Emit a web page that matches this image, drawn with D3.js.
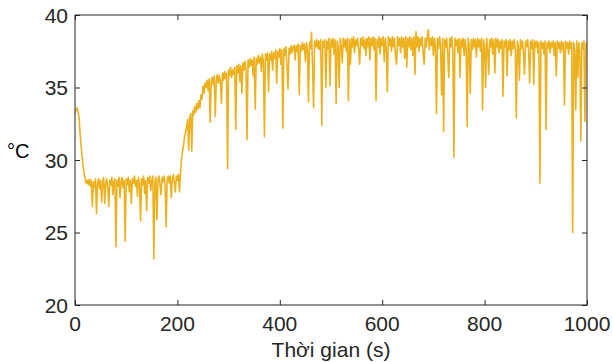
<!DOCTYPE html>
<html><head><meta charset="utf-8">
<script src="https://cdn.jsdelivr.net/npm/d3@7"></script>
<style>body{margin:0;background:#fff}svg{display:block}text{font-family:"Liberation Sans",Arial,Helvetica,sans-serif;fill:#262626}</style>
</head><body>
<script>
// Sampling: one reading every 2 s from 0 to 1000 s
const tStart = 0, tStep = 2;
const temperature = [
33.2,33.5,33.6,33.3,32.9,31.8,31.0,30.2,29.5,29.0,
28.7,28.4,28.6,28.3,28.7,28.2,28.6,26.8,28.5,28.1,
28.7,26.3,28.4,28.7,28.0,28.6,27.1,28.5,28.8,27.0,
28.4,28.7,28.1,26.8,28.6,28.3,28.8,27.6,28.5,28.7,
24.0,28.6,28.2,28.8,27.4,28.5,28.8,28.1,28.6,24.4,
28.7,28.3,28.8,27.8,28.6,27.0,28.7,28.4,28.9,28.2,
28.6,27.5,28.8,28.4,25.8,28.7,28.3,28.9,27.7,28.6,
26.5,28.8,28.4,28.9,27.9,28.6,28.9,23.2,28.5,28.8,
25.9,28.6,28.9,28.3,27.6,28.8,28.5,28.9,28.2,25.4,
28.7,28.9,28.4,28.9,27.4,28.7,29.0,28.5,27.8,28.9,
28.6,29.0,27.8,29.1,30.0,30.6,31.0,31.6,31.9,32.3,
32.8,30.7,32.9,33.2,30.6,33.4,33.1,33.7,33.3,33.9,
33.5,34.1,33.6,34.5,34.2,35.1,34.6,35.3,35.0,35.5,
34.8,35.6,32.6,35.4,35.7,35.2,35.8,33.0,35.5,35.9,
35.3,35.8,35.4,33.9,36.0,35.5,36.1,35.6,36.0,29.4,
36.2,35.8,36.4,35.7,36.2,35.9,36.4,32.1,36.5,36.0,
36.6,35.4,36.5,34.6,36.7,36.2,36.8,36.3,31.4,36.9,
36.4,37.0,36.5,36.9,35.8,37.1,33.5,37.0,36.6,37.2,
36.7,37.1,36.1,37.3,36.8,31.6,37.3,36.9,37.4,34.7,
37.3,36.9,37.5,36.2,37.4,37.0,37.6,35.3,37.5,37.1,
37.7,36.6,37.6,32.2,37.7,37.2,37.8,36.4,34.9,37.7,
37.3,37.9,37.4,37.8,37.9,36.9,37.9,37.5,38.0,34.5,
37.9,37.5,38.1,37.6,38.0,36.8,38.1,37.6,34.0,38.1,
37.7,38.8,36.4,33.6,38.2,37.8,38.3,37.7,38.2,37.6,
38.3,32.4,38.2,37.8,38.3,35.0,38.2,37.7,38.4,35.1,
38.3,37.8,38.4,37.3,38.3,33.9,38.2,37.8,35.0,38.4,
37.9,36.7,38.4,37.8,38.3,37.5,38.4,34.1,38.3,36.6,
38.4,37.8,38.5,37.4,38.3,37.9,38.4,37.6,36.6,38.4,
37.9,38.5,37.7,38.3,37.2,38.4,37.8,38.5,36.9,38.4,
37.9,38.5,37.6,38.4,34.1,38.3,37.8,38.5,37.3,38.4,
37.9,38.5,36.8,38.4,37.7,34.7,38.5,37.9,38.4,37.5,
38.5,37.8,38.4,37.1,36.6,38.5,37.9,38.4,37.4,38.5,
37.8,38.4,37.0,38.5,36.4,38.4,37.8,38.5,37.6,38.4,
37.2,38.5,35.9,38.85,37.8,38.5,37.5,38.4,37.9,38.5,
37.3,36.6,38.4,37.8,38.5,39.0,37.6,38.4,37.9,38.5,
37.2,38.4,37.8,33.2,38.4,37.7,38.5,37.9,34.5,38.4,
31.95,38.3,37.8,38.4,37.3,35.7,38.4,37.8,38.5,37.5,
30.2,38.4,37.9,38.3,37.4,38.4,35.7,38.3,37.8,38.4,
37.2,38.3,37.7,32.3,38.4,37.9,34.6,38.3,37.6,38.4,
37.8,38.3,37.1,38.4,37.8,38.3,37.5,38.4,33.45,38.3,
37.8,35.0,38.4,37.7,35.9,38.3,37.8,38.4,37.3,38.3,
36.0,38.4,37.8,38.3,37.4,38.2,37.7,38.3,34.4,38.2,
37.8,38.3,35.8,38.2,37.6,38.3,37.2,38.2,37.7,38.3,
37.5,32.9,38.2,37.8,35.5,38.3,37.7,38.2,37.3,35.9,
38.2,37.8,38.3,37.5,35.3,38.2,37.7,38.3,35.2,38.2,
37.8,38.2,37.4,38.1,28.4,38.2,37.7,38.1,37.3,38.2,
32.1,38.1,37.7,38.2,37.4,38.1,37.8,38.2,37.2,38.1,
35.8,38.2,37.7,38.1,37.4,38.2,37.6,38.1,33.8,38.2,
37.7,38.1,37.3,38.2,37.7,38.1,25.0,38.1,37.6,33.45,
38.2,35.7,38.1,37.6,31.3,38.1,37.7,38.2,32.65,38.0,
38.1
];
const xTicks = [0,200,400,600,800,1000];
const yTicks = [20,25,30,35,40];
const xDomain = [0,1000], yDomain = [20,40];
const xLabel = "Thời gian (s)", yLabel = "°C";

const W = 612, H = 362;
const m = {l:75, r:25, t:15, b:57};
const svg = d3.select("body").append("svg").attr("width",W).attr("height",H);
const x = d3.scaleLinear().domain(xDomain).range([m.l, W-m.r]);
const y = d3.scaleLinear().domain(yDomain).range([H-m.b, m.t]);

const data = temperature.map((v,i)=>({t: tStart + i*tStep, v}));

svg.append("clipPath").attr("id","clip").append("rect")
  .attr("x",m.l).attr("y",m.t).attr("width",W-m.l-m.r).attr("height",H-m.t-m.b);

svg.append("path").datum(data)
  .attr("clip-path","url(#clip)")
  .attr("fill","none").attr("stroke","#EDB120").attr("stroke-width",1.6)
  .attr("stroke-linejoin","round")
  .attr("d", d3.line().x(d=>x(d.t)).y(d=>y(d.v)));

const tl = 5;
const axisStyle = g => { g.select(".domain").remove(); g.selectAll("line").attr("stroke","#262626"); g.selectAll("text").remove(); };
svg.append("g").attr("transform",`translate(0,${H-m.b})`)
  .call(d3.axisBottom(x).tickValues(xTicks).tickSizeInner(-tl).tickSizeOuter(0)).call(axisStyle);
svg.append("g").attr("transform",`translate(0,${m.t})`)
  .call(d3.axisTop(x).tickValues(xTicks).tickSizeInner(-tl).tickSizeOuter(0)).call(axisStyle);
svg.append("g").attr("transform",`translate(${m.l},0)`)
  .call(d3.axisLeft(y).tickValues(yTicks).tickSizeInner(-tl).tickSizeOuter(0)).call(axisStyle);
svg.append("g").attr("transform",`translate(${W-m.r},0)`)
  .call(d3.axisRight(y).tickValues(yTicks).tickSizeInner(-tl).tickSizeOuter(0)).call(axisStyle);

svg.append("rect").attr("x",m.l).attr("y",m.t).attr("width",W-m.l-m.r).attr("height",H-m.t-m.b)
  .attr("fill","none").attr("stroke","#262626").attr("stroke-width",1);

svg.selectAll(".xt").data(xTicks).enter().append("text")
  .attr("x",d=>x(d)).attr("y",H-m.b+26).attr("text-anchor","middle")
  .attr("font-size",21).text(d=>d);
svg.selectAll(".yt").data(yTicks).enter().append("text")
  .attr("x",m.l-7).attr("y",d=>y(d)+7.5).attr("text-anchor","end")
  .attr("font-size",21).text(d=>d);

svg.append("text").attr("x",(m.l+W-m.r)/2).attr("y",H-5).attr("text-anchor","middle")
  .attr("font-size",21).text(xLabel);
svg.append("text").attr("x",7).attr("y",158).attr("font-size",20).style("fill","#000").text(yLabel);
</script>
</body></html>
